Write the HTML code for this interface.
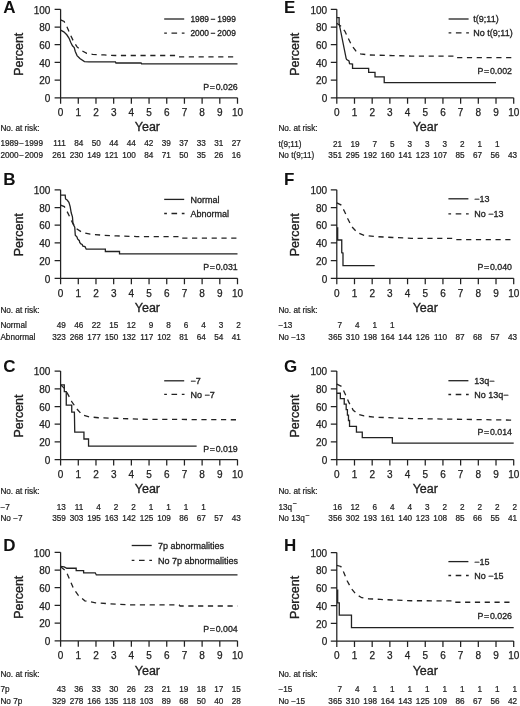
<!DOCTYPE html>
<html><head><meta charset="utf-8"><title>Figure</title>
<style>
html,body{margin:0;padding:0;background:#fff;}
svg{display:block;will-change:transform;}
text{font-family:"Liberation Sans", sans-serif;fill:#222;}
.L{font-size:17px;font-weight:bold;fill:#111;}
.t{font-size:10px;stroke:#222;stroke-width:0.25px;}
.yr{font-size:12.5px;stroke:#222;stroke-width:0.35px;}
.lg{font-size:9px;stroke:#222;stroke-width:0.3px;}
.pv{font-size:8.8px;stroke:#222;stroke-width:0.3px;}
.rk{font-size:8.2px;stroke:#222;stroke-width:0.22px;}
.ax{fill:none;stroke:#222;stroke-width:1.25;}
.cs{fill:none;stroke:#222;stroke-width:1.3;stroke-linejoin:miter;}
.cl{fill:none;stroke:#222;stroke-width:1.35;stroke-dasharray:2.7 4.6 5.6 4.7 2.7 9;}
.cd{fill:none;stroke:#222;stroke-width:1.3;stroke-dasharray:5.2 4.6;}
</style></head>
<body>
<svg width="520" height="706" viewBox="0 0 520 706">
<rect width="520" height="706" fill="#fff"/>
<text x="3.2" y="13.1" class="L">A</text>
<path d="M60.6 9.3V97.8M54.6 97.8H237.5M54.6 80.1H60.6M54.6 62.4H60.6M54.6 44.7H60.6M54.6 27H60.6M54.6 9.3H60.6M60.6 97.8v6M78.29 97.8v6M95.98 97.8v6M113.67 97.8v6M131.36 97.8v6M149.05 97.8v6M166.74 97.8v6M184.43 97.8v6M202.12 97.8v6M219.81 97.8v6M237.5 97.8v6" class="ax"/>
<text x="50.4" y="102" class="t" text-anchor="end">0</text>
<text x="50.4" y="84.3" class="t" text-anchor="end">20</text>
<text x="50.4" y="66.6" class="t" text-anchor="end">40</text>
<text x="50.4" y="48.9" class="t" text-anchor="end">60</text>
<text x="50.4" y="31.2" class="t" text-anchor="end">80</text>
<text x="50.4" y="13.5" class="t" text-anchor="end">100</text>
<text x="60.6" y="116.2" class="t" text-anchor="middle">0</text>
<text x="78.29" y="116.2" class="t" text-anchor="middle">1</text>
<text x="95.98" y="116.2" class="t" text-anchor="middle">2</text>
<text x="113.67" y="116.2" class="t" text-anchor="middle">3</text>
<text x="131.36" y="116.2" class="t" text-anchor="middle">4</text>
<text x="149.05" y="116.2" class="t" text-anchor="middle">5</text>
<text x="166.74" y="116.2" class="t" text-anchor="middle">6</text>
<text x="184.43" y="116.2" class="t" text-anchor="middle">7</text>
<text x="202.12" y="116.2" class="t" text-anchor="middle">8</text>
<text x="219.81" y="116.2" class="t" text-anchor="middle">9</text>
<text x="237.5" y="116.2" class="t" text-anchor="middle">10</text>
<text x="147.4" y="130.7" class="yr" text-anchor="middle">Year</text>
<text transform="translate(23.2 54.2) rotate(-90)" class="yr" text-anchor="middle">Percent</text>
<polyline points="60.6,30.19 63.78,31.87 66.79,34.79 69.09,38.33 70.68,42.31 72.45,45.76 74.22,47.53 75.28,51.51 77.05,55.59 79.88,58.51 84.48,61.6 88.9,61.87 115.44,61.87 115.97,63.02 141.09,63.02 141.62,63.9 237.5,63.9" class="cs"/>
<polyline points="60.6,19.83 64.14,21.51 67.15,27.27 70.15,34.17 73.16,40.63 77.05,46.91 81.12,50.36 86.78,53.28 92.62,54.43 104.12,54.97 115.44,55.5 175.59,55.5 176.47,56.82 237.5,56.82" class="cd"/>
<path d="M164.2 19h20" class="cs"/>
<path d="M164.2 33.1h20.3" class="cl"/>
<text x="190.4" y="22.2" class="lg" style="font-size:8.4px">1989 − 1999</text>
<text x="190.4" y="36.3" class="lg" style="font-size:8.4px">2000 − 2009</text>
<text x="237.7" y="90" class="pv" text-anchor="end">P = 0.026</text>
<text x="0.4" y="130.8" class="rk">No. at risk:</text>
<text x="0.4" y="146.2" class="rk">1989 − 1999</text>
<text x="0.4" y="157.9" class="rk">2000 − 2009</text>
<text x="65.8" y="146.2" class="rk" text-anchor="end">111</text>
<text x="83.3" y="146.2" class="rk" text-anchor="end">84</text>
<text x="100.8" y="146.2" class="rk" text-anchor="end">50</text>
<text x="118.3" y="146.2" class="rk" text-anchor="end">44</text>
<text x="135.8" y="146.2" class="rk" text-anchor="end">44</text>
<text x="153.3" y="146.2" class="rk" text-anchor="end">42</text>
<text x="170.8" y="146.2" class="rk" text-anchor="end">39</text>
<text x="188.3" y="146.2" class="rk" text-anchor="end">37</text>
<text x="205.8" y="146.2" class="rk" text-anchor="end">33</text>
<text x="223.3" y="146.2" class="rk" text-anchor="end">31</text>
<text x="240.8" y="146.2" class="rk" text-anchor="end">27</text>
<text x="65.8" y="157.9" class="rk" text-anchor="end">261</text>
<text x="83.3" y="157.9" class="rk" text-anchor="end">230</text>
<text x="100.8" y="157.9" class="rk" text-anchor="end">149</text>
<text x="118.3" y="157.9" class="rk" text-anchor="end">121</text>
<text x="135.8" y="157.9" class="rk" text-anchor="end">100</text>
<text x="153.3" y="157.9" class="rk" text-anchor="end">84</text>
<text x="170.8" y="157.9" class="rk" text-anchor="end">71</text>
<text x="188.3" y="157.9" class="rk" text-anchor="end">50</text>
<text x="205.8" y="157.9" class="rk" text-anchor="end">35</text>
<text x="223.3" y="157.9" class="rk" text-anchor="end">26</text>
<text x="240.8" y="157.9" class="rk" text-anchor="end">16</text>
<text x="3.2" y="185" class="L">B</text>
<path d="M60.6 189.8V278.3M54.6 278.3H237.5M54.6 260.6H60.6M54.6 242.9H60.6M54.6 225.2H60.6M54.6 207.5H60.6M54.6 189.8H60.6M60.6 278.3v6M78.29 278.3v6M95.98 278.3v6M113.67 278.3v6M131.36 278.3v6M149.05 278.3v6M166.74 278.3v6M184.43 278.3v6M202.12 278.3v6M219.81 278.3v6M237.5 278.3v6" class="ax"/>
<text x="50.4" y="282.5" class="t" text-anchor="end">0</text>
<text x="50.4" y="264.8" class="t" text-anchor="end">20</text>
<text x="50.4" y="247.1" class="t" text-anchor="end">40</text>
<text x="50.4" y="229.4" class="t" text-anchor="end">60</text>
<text x="50.4" y="211.7" class="t" text-anchor="end">80</text>
<text x="50.4" y="194" class="t" text-anchor="end">100</text>
<text x="60.6" y="296.7" class="t" text-anchor="middle">0</text>
<text x="78.29" y="296.7" class="t" text-anchor="middle">1</text>
<text x="95.98" y="296.7" class="t" text-anchor="middle">2</text>
<text x="113.67" y="296.7" class="t" text-anchor="middle">3</text>
<text x="131.36" y="296.7" class="t" text-anchor="middle">4</text>
<text x="149.05" y="296.7" class="t" text-anchor="middle">5</text>
<text x="166.74" y="296.7" class="t" text-anchor="middle">6</text>
<text x="184.43" y="296.7" class="t" text-anchor="middle">7</text>
<text x="202.12" y="296.7" class="t" text-anchor="middle">8</text>
<text x="219.81" y="296.7" class="t" text-anchor="middle">9</text>
<text x="237.5" y="296.7" class="t" text-anchor="middle">10</text>
<text x="147.4" y="312" class="yr" text-anchor="middle">Year</text>
<text transform="translate(23.2 234.7) rotate(-90)" class="yr" text-anchor="middle">Percent</text>
<polyline points="60.6,195.2 65.2,195.2 65.55,199 67.15,200.07 68.91,202.37 70.15,206.53 71.21,212.81 72.45,216.79 72.98,223.78 74.75,227.24 75.28,235.29 77.05,237.15 77.58,238.92 79.35,240.69 79.71,242.46 80.94,243.96 82.18,244.49 82.89,246.09 85.01,246.62 86.25,249.18 105.36,249.18 105.36,251.48 119.51,251.48 119.51,253.96 237.5,253.96" class="cs"/>
<polyline points="60.6,205.11 64.31,206.53 66.61,210.51 69.45,216.35 72.45,222.63 77.05,229.01 82.18,232.37 90.32,234.23 104.12,235.29 116.85,235.91 136.67,236.53 180.89,236.53 181.78,238.03 237.5,238.03" class="cd"/>
<path d="M164.2 199.4h20" class="cs"/>
<path d="M164.2 213.5h20.3" class="cl"/>
<text x="190.4" y="202.6" class="lg">Normal</text>
<text x="190.4" y="216.7" class="lg">Abnormal</text>
<text x="237.7" y="270.2" class="pv" text-anchor="end">P = 0.031</text>
<text x="0.4" y="312.9" class="rk">No. at risk:</text>
<text x="0.4" y="328" class="rk">Normal</text>
<text x="0.4" y="339.8" class="rk">Abnormal</text>
<text x="65.8" y="328" class="rk" text-anchor="end">49</text>
<text x="83.3" y="328" class="rk" text-anchor="end">46</text>
<text x="100.8" y="328" class="rk" text-anchor="end">22</text>
<text x="118.3" y="328" class="rk" text-anchor="end">15</text>
<text x="135.8" y="328" class="rk" text-anchor="end">12</text>
<text x="153.3" y="328" class="rk" text-anchor="end">9</text>
<text x="170.8" y="328" class="rk" text-anchor="end">8</text>
<text x="188.3" y="328" class="rk" text-anchor="end">6</text>
<text x="205.8" y="328" class="rk" text-anchor="end">4</text>
<text x="223.3" y="328" class="rk" text-anchor="end">3</text>
<text x="240.8" y="328" class="rk" text-anchor="end">2</text>
<text x="65.8" y="339.8" class="rk" text-anchor="end">323</text>
<text x="83.3" y="339.8" class="rk" text-anchor="end">268</text>
<text x="100.8" y="339.8" class="rk" text-anchor="end">177</text>
<text x="118.3" y="339.8" class="rk" text-anchor="end">150</text>
<text x="135.8" y="339.8" class="rk" text-anchor="end">132</text>
<text x="153.3" y="339.8" class="rk" text-anchor="end">117</text>
<text x="170.8" y="339.8" class="rk" text-anchor="end">102</text>
<text x="188.3" y="339.8" class="rk" text-anchor="end">81</text>
<text x="205.8" y="339.8" class="rk" text-anchor="end">64</text>
<text x="223.3" y="339.8" class="rk" text-anchor="end">54</text>
<text x="240.8" y="339.8" class="rk" text-anchor="end">41</text>
<text x="3.2" y="371.7" class="L">C</text>
<path d="M60.6 371.1V459.6M54.6 459.6H237.5M54.6 441.9H60.6M54.6 424.2H60.6M54.6 406.5H60.6M54.6 388.8H60.6M54.6 371.1H60.6M60.6 459.6v6M78.29 459.6v6M95.98 459.6v6M113.67 459.6v6M131.36 459.6v6M149.05 459.6v6M166.74 459.6v6M184.43 459.6v6M202.12 459.6v6M219.81 459.6v6M237.5 459.6v6" class="ax"/>
<text x="50.4" y="463.8" class="t" text-anchor="end">0</text>
<text x="50.4" y="446.1" class="t" text-anchor="end">20</text>
<text x="50.4" y="428.4" class="t" text-anchor="end">40</text>
<text x="50.4" y="410.7" class="t" text-anchor="end">60</text>
<text x="50.4" y="393" class="t" text-anchor="end">80</text>
<text x="50.4" y="375.3" class="t" text-anchor="end">100</text>
<text x="60.6" y="478" class="t" text-anchor="middle">0</text>
<text x="78.29" y="478" class="t" text-anchor="middle">1</text>
<text x="95.98" y="478" class="t" text-anchor="middle">2</text>
<text x="113.67" y="478" class="t" text-anchor="middle">3</text>
<text x="131.36" y="478" class="t" text-anchor="middle">4</text>
<text x="149.05" y="478" class="t" text-anchor="middle">5</text>
<text x="166.74" y="478" class="t" text-anchor="middle">6</text>
<text x="184.43" y="478" class="t" text-anchor="middle">7</text>
<text x="202.12" y="478" class="t" text-anchor="middle">8</text>
<text x="219.81" y="478" class="t" text-anchor="middle">9</text>
<text x="237.5" y="478" class="t" text-anchor="middle">10</text>
<text x="147.4" y="493.3" class="yr" text-anchor="middle">Year</text>
<text transform="translate(23.2 416) rotate(-90)" class="yr" text-anchor="middle">Percent</text>
<polyline points="60.6,384.82 64.31,384.82 64.31,391.72 66.26,391.72 66.26,405.17 71.74,405.17 71.74,412.16 74.4,412.16 74.75,432.08 83.95,432.08 83.95,438.98 88.55,438.98 88.55,446.15 196.64,446.15" class="cs"/>
<polyline points="60.6,384.82 64.85,388.8 68.38,395.17 71.74,401.54 76.52,408.54 82.18,414.82 89.08,416.77 98.46,417.74 116.85,418.27 140.21,419.24 237.5,419.78" class="cd"/>
<path d="M164.2 380.8h20" class="cs"/>
<path d="M164.2 394.4h20.3" class="cl"/>
<text x="190.4" y="384" class="lg">−7</text>
<text x="190.4" y="397.6" class="lg">No −7</text>
<text x="237.7" y="451.5" class="pv" text-anchor="end">P = 0.019</text>
<text x="0.4" y="494.1" class="rk">No. at risk:</text>
<text x="0.4" y="509.6" class="rk">−7</text>
<text x="0.4" y="521.1" class="rk">No −7</text>
<text x="65.8" y="509.6" class="rk" text-anchor="end">13</text>
<text x="83.3" y="509.6" class="rk" text-anchor="end">11</text>
<text x="100.8" y="509.6" class="rk" text-anchor="end">4</text>
<text x="118.3" y="509.6" class="rk" text-anchor="end">2</text>
<text x="135.8" y="509.6" class="rk" text-anchor="end">2</text>
<text x="153.3" y="509.6" class="rk" text-anchor="end">1</text>
<text x="170.8" y="509.6" class="rk" text-anchor="end">1</text>
<text x="188.3" y="509.6" class="rk" text-anchor="end">1</text>
<text x="205.8" y="509.6" class="rk" text-anchor="end">1</text>
<text x="65.8" y="521.1" class="rk" text-anchor="end">359</text>
<text x="83.3" y="521.1" class="rk" text-anchor="end">303</text>
<text x="100.8" y="521.1" class="rk" text-anchor="end">195</text>
<text x="118.3" y="521.1" class="rk" text-anchor="end">163</text>
<text x="135.8" y="521.1" class="rk" text-anchor="end">142</text>
<text x="153.3" y="521.1" class="rk" text-anchor="end">125</text>
<text x="170.8" y="521.1" class="rk" text-anchor="end">109</text>
<text x="188.3" y="521.1" class="rk" text-anchor="end">86</text>
<text x="205.8" y="521.1" class="rk" text-anchor="end">67</text>
<text x="223.3" y="521.1" class="rk" text-anchor="end">57</text>
<text x="240.8" y="521.1" class="rk" text-anchor="end">43</text>
<text x="3.2" y="550.9" class="L">D</text>
<path d="M60.6 552.3V640.8M54.6 640.8H237.5M54.6 623.1H60.6M54.6 605.4H60.6M54.6 587.7H60.6M54.6 570H60.6M54.6 552.3H60.6M60.6 640.8v6M78.29 640.8v6M95.98 640.8v6M113.67 640.8v6M131.36 640.8v6M149.05 640.8v6M166.74 640.8v6M184.43 640.8v6M202.12 640.8v6M219.81 640.8v6M237.5 640.8v6" class="ax"/>
<text x="50.4" y="645" class="t" text-anchor="end">0</text>
<text x="50.4" y="627.3" class="t" text-anchor="end">20</text>
<text x="50.4" y="609.6" class="t" text-anchor="end">40</text>
<text x="50.4" y="591.9" class="t" text-anchor="end">60</text>
<text x="50.4" y="574.2" class="t" text-anchor="end">80</text>
<text x="50.4" y="556.5" class="t" text-anchor="end">100</text>
<text x="60.6" y="659.2" class="t" text-anchor="middle">0</text>
<text x="78.29" y="659.2" class="t" text-anchor="middle">1</text>
<text x="95.98" y="659.2" class="t" text-anchor="middle">2</text>
<text x="113.67" y="659.2" class="t" text-anchor="middle">3</text>
<text x="131.36" y="659.2" class="t" text-anchor="middle">4</text>
<text x="149.05" y="659.2" class="t" text-anchor="middle">5</text>
<text x="166.74" y="659.2" class="t" text-anchor="middle">6</text>
<text x="184.43" y="659.2" class="t" text-anchor="middle">7</text>
<text x="202.12" y="659.2" class="t" text-anchor="middle">8</text>
<text x="219.81" y="659.2" class="t" text-anchor="middle">9</text>
<text x="237.5" y="659.2" class="t" text-anchor="middle">10</text>
<text x="147.4" y="675.1" class="yr" text-anchor="middle">Year</text>
<text transform="translate(23.2 597.2) rotate(-90)" class="yr" text-anchor="middle">Percent</text>
<polyline points="60.6,566.37 64.14,566.81 66.79,568.23 76.17,568.23 76.17,570.53 83.6,570.53 83.6,572.83 95.27,572.83 96.33,574.96 237.5,574.96" class="cs"/>
<polyline points="60.6,566.81 66.08,571.24 70.15,580.62 73.51,588.58 78.29,595.4 84.84,600.8 95.63,602.83 109.07,603.72 126.58,604.78 179.12,604.87 180.01,606.02 237.5,606.02" class="cd"/>
<path d="M131.7 545.5h20" class="cs"/>
<path d="M131.7 560.4h20.3" class="cl"/>
<text x="158" y="548.7" class="lg">7p abnormalities</text>
<text x="158" y="563.6" class="lg">No 7p abnormalities</text>
<text x="237.7" y="632.2" class="pv" text-anchor="end">P = 0.004</text>
<text x="0.4" y="676.7" class="rk">No. at risk:</text>
<text x="0.4" y="691.9" class="rk">7p</text>
<text x="0.4" y="703.8" class="rk">No 7p</text>
<text x="65.8" y="691.9" class="rk" text-anchor="end">43</text>
<text x="83.3" y="691.9" class="rk" text-anchor="end">36</text>
<text x="100.8" y="691.9" class="rk" text-anchor="end">33</text>
<text x="118.3" y="691.9" class="rk" text-anchor="end">30</text>
<text x="135.8" y="691.9" class="rk" text-anchor="end">26</text>
<text x="153.3" y="691.9" class="rk" text-anchor="end">23</text>
<text x="170.8" y="691.9" class="rk" text-anchor="end">21</text>
<text x="188.3" y="691.9" class="rk" text-anchor="end">19</text>
<text x="205.8" y="691.9" class="rk" text-anchor="end">18</text>
<text x="223.3" y="691.9" class="rk" text-anchor="end">17</text>
<text x="240.8" y="691.9" class="rk" text-anchor="end">15</text>
<text x="65.8" y="703.8" class="rk" text-anchor="end">329</text>
<text x="83.3" y="703.8" class="rk" text-anchor="end">278</text>
<text x="100.8" y="703.8" class="rk" text-anchor="end">166</text>
<text x="118.3" y="703.8" class="rk" text-anchor="end">135</text>
<text x="135.8" y="703.8" class="rk" text-anchor="end">118</text>
<text x="153.3" y="703.8" class="rk" text-anchor="end">103</text>
<text x="170.8" y="703.8" class="rk" text-anchor="end">89</text>
<text x="188.3" y="703.8" class="rk" text-anchor="end">68</text>
<text x="205.8" y="703.8" class="rk" text-anchor="end">50</text>
<text x="223.3" y="703.8" class="rk" text-anchor="end">40</text>
<text x="240.8" y="703.8" class="rk" text-anchor="end">28</text>
<text x="284" y="12.9" class="L">E</text>
<path d="M336.8 9.3V97.8M330.8 97.8H513.7M330.8 80.1H336.8M330.8 62.4H336.8M330.8 44.7H336.8M330.8 27H336.8M330.8 9.3H336.8M336.8 97.8v6M354.49 97.8v6M372.18 97.8v6M389.87 97.8v6M407.56 97.8v6M425.25 97.8v6M442.94 97.8v6M460.63 97.8v6M478.32 97.8v6M496.01 97.8v6M513.7 97.8v6" class="ax"/>
<text x="327.2" y="102" class="t" text-anchor="end">0</text>
<text x="327.2" y="84.3" class="t" text-anchor="end">20</text>
<text x="327.2" y="66.6" class="t" text-anchor="end">40</text>
<text x="327.2" y="48.9" class="t" text-anchor="end">60</text>
<text x="327.2" y="31.2" class="t" text-anchor="end">80</text>
<text x="327.2" y="13.5" class="t" text-anchor="end">100</text>
<text x="336.8" y="116.2" class="t" text-anchor="middle">0</text>
<text x="354.49" y="116.2" class="t" text-anchor="middle">1</text>
<text x="372.18" y="116.2" class="t" text-anchor="middle">2</text>
<text x="389.87" y="116.2" class="t" text-anchor="middle">3</text>
<text x="407.56" y="116.2" class="t" text-anchor="middle">4</text>
<text x="425.25" y="116.2" class="t" text-anchor="middle">5</text>
<text x="442.94" y="116.2" class="t" text-anchor="middle">6</text>
<text x="460.63" y="116.2" class="t" text-anchor="middle">7</text>
<text x="478.32" y="116.2" class="t" text-anchor="middle">8</text>
<text x="496.01" y="116.2" class="t" text-anchor="middle">9</text>
<text x="513.7" y="116.2" class="t" text-anchor="middle">10</text>
<text x="425.3" y="130.7" class="yr" text-anchor="middle">Year</text>
<text transform="translate(299.4 54.2) rotate(-90)" class="yr" text-anchor="middle">Percent</text>
<polyline points="336.8,17.53 339.1,17.53 339.1,23.28 346.18,58.51 346.71,59.57 349.01,60.81 349.54,63.73 352.54,64.17 352.54,68.33 368.64,68.33 368.64,72.31 375.01,72.31 375.01,76.91 384.21,76.91 384.21,82.67 496.01,82.67" class="cs"/>
<polyline points="336.8,23.28 340.87,26.2 344.94,31.34 348.48,38.77 351.84,45.76 355.91,50.98 360.5,53.82 368.64,54.97 392.88,55.59 411.1,56.03 453.55,56.03 454.44,57.62 513.7,57.62" class="cd"/>
<path d="M448.6 19h20" class="cs"/>
<path d="M448.6 32.9h20.3" class="cl"/>
<text x="473.3" y="22.2" class="lg">t(9;11)</text>
<text x="473.3" y="36.1" class="lg">No t(9;11)</text>
<text x="512" y="74.3" class="pv" text-anchor="end">P = 0.002</text>
<text x="278.4" y="130.9" class="rk">No. at risk:</text>
<text x="278.4" y="146.5" class="rk">t(9;11)</text>
<text x="278.4" y="157.8" class="rk">No t(9;11)</text>
<text x="342" y="146.5" class="rk" text-anchor="end">21</text>
<text x="359.5" y="146.5" class="rk" text-anchor="end">19</text>
<text x="377" y="146.5" class="rk" text-anchor="end">7</text>
<text x="394.5" y="146.5" class="rk" text-anchor="end">5</text>
<text x="412" y="146.5" class="rk" text-anchor="end">3</text>
<text x="429.5" y="146.5" class="rk" text-anchor="end">3</text>
<text x="447" y="146.5" class="rk" text-anchor="end">3</text>
<text x="464.5" y="146.5" class="rk" text-anchor="end">2</text>
<text x="482" y="146.5" class="rk" text-anchor="end">1</text>
<text x="499.5" y="146.5" class="rk" text-anchor="end">1</text>
<text x="342" y="157.8" class="rk" text-anchor="end">351</text>
<text x="359.5" y="157.8" class="rk" text-anchor="end">295</text>
<text x="377" y="157.8" class="rk" text-anchor="end">192</text>
<text x="394.5" y="157.8" class="rk" text-anchor="end">160</text>
<text x="412" y="157.8" class="rk" text-anchor="end">141</text>
<text x="429.5" y="157.8" class="rk" text-anchor="end">123</text>
<text x="447" y="157.8" class="rk" text-anchor="end">107</text>
<text x="464.5" y="157.8" class="rk" text-anchor="end">85</text>
<text x="482" y="157.8" class="rk" text-anchor="end">67</text>
<text x="499.5" y="157.8" class="rk" text-anchor="end">56</text>
<text x="517" y="157.8" class="rk" text-anchor="end">43</text>
<text x="284" y="185" class="L">F</text>
<path d="M336.8 189.8V278.3M330.8 278.3H513.7M330.8 260.6H336.8M330.8 242.9H336.8M330.8 225.2H336.8M330.8 207.5H336.8M330.8 189.8H336.8M336.8 278.3v6M354.49 278.3v6M372.18 278.3v6M389.87 278.3v6M407.56 278.3v6M425.25 278.3v6M442.94 278.3v6M460.63 278.3v6M478.32 278.3v6M496.01 278.3v6M513.7 278.3v6" class="ax"/>
<text x="327.2" y="282.5" class="t" text-anchor="end">0</text>
<text x="327.2" y="264.8" class="t" text-anchor="end">20</text>
<text x="327.2" y="247.1" class="t" text-anchor="end">40</text>
<text x="327.2" y="229.4" class="t" text-anchor="end">60</text>
<text x="327.2" y="211.7" class="t" text-anchor="end">80</text>
<text x="327.2" y="194" class="t" text-anchor="end">100</text>
<text x="336.8" y="296.7" class="t" text-anchor="middle">0</text>
<text x="354.49" y="296.7" class="t" text-anchor="middle">1</text>
<text x="372.18" y="296.7" class="t" text-anchor="middle">2</text>
<text x="389.87" y="296.7" class="t" text-anchor="middle">3</text>
<text x="407.56" y="296.7" class="t" text-anchor="middle">4</text>
<text x="425.25" y="296.7" class="t" text-anchor="middle">5</text>
<text x="442.94" y="296.7" class="t" text-anchor="middle">6</text>
<text x="460.63" y="296.7" class="t" text-anchor="middle">7</text>
<text x="478.32" y="296.7" class="t" text-anchor="middle">8</text>
<text x="496.01" y="296.7" class="t" text-anchor="middle">9</text>
<text x="513.7" y="296.7" class="t" text-anchor="middle">10</text>
<text x="425.3" y="312" class="yr" text-anchor="middle">Year</text>
<text transform="translate(299.4 234.7) rotate(-90)" class="yr" text-anchor="middle">Percent</text>
<polyline points="337.68,227.32 337.68,239.98 341.75,239.98 341.75,252.72 342.99,252.99 342.99,265.64 374.66,265.64" class="cs"/>
<polyline points="336.8,202.81 340.87,204.85 344.41,211.22 347.77,218.74 351.84,226.7 357.14,232.46 364.04,235.38 374.48,236.53 392.88,237.5 411.1,238.3 453.55,238.48 454.44,239.54 513.7,239.54" class="cd"/>
<path d="M448.4 198.8h20" class="cs"/>
<path d="M448.4 213.8h20.3" class="cl"/>
<text x="474.3" y="202" class="lg">−13</text>
<text x="474.3" y="217" class="lg">No −13</text>
<text x="512" y="270.2" class="pv" text-anchor="end">P = 0.040</text>
<text x="278.4" y="313" class="rk">No. at risk:</text>
<text x="278.4" y="328.2" class="rk">−13</text>
<text x="278.4" y="339.8" class="rk">No −13</text>
<text x="342" y="328.2" class="rk" text-anchor="end">7</text>
<text x="359.5" y="328.2" class="rk" text-anchor="end">4</text>
<text x="377" y="328.2" class="rk" text-anchor="end">1</text>
<text x="394.5" y="328.2" class="rk" text-anchor="end">1</text>
<text x="342" y="339.8" class="rk" text-anchor="end">365</text>
<text x="359.5" y="339.8" class="rk" text-anchor="end">310</text>
<text x="377" y="339.8" class="rk" text-anchor="end">198</text>
<text x="394.5" y="339.8" class="rk" text-anchor="end">164</text>
<text x="412" y="339.8" class="rk" text-anchor="end">144</text>
<text x="429.5" y="339.8" class="rk" text-anchor="end">126</text>
<text x="447" y="339.8" class="rk" text-anchor="end">110</text>
<text x="464.5" y="339.8" class="rk" text-anchor="end">87</text>
<text x="482" y="339.8" class="rk" text-anchor="end">68</text>
<text x="499.5" y="339.8" class="rk" text-anchor="end">57</text>
<text x="517" y="339.8" class="rk" text-anchor="end">43</text>
<text x="284" y="371.7" class="L">G</text>
<path d="M336.8 371.1V459.6M330.8 459.6H513.7M330.8 441.9H336.8M330.8 424.2H336.8M330.8 406.5H336.8M330.8 388.8H336.8M330.8 371.1H336.8M336.8 459.6v6M354.49 459.6v6M372.18 459.6v6M389.87 459.6v6M407.56 459.6v6M425.25 459.6v6M442.94 459.6v6M460.63 459.6v6M478.32 459.6v6M496.01 459.6v6M513.7 459.6v6" class="ax"/>
<text x="327.2" y="463.8" class="t" text-anchor="end">0</text>
<text x="327.2" y="446.1" class="t" text-anchor="end">20</text>
<text x="327.2" y="428.4" class="t" text-anchor="end">40</text>
<text x="327.2" y="410.7" class="t" text-anchor="end">60</text>
<text x="327.2" y="393" class="t" text-anchor="end">80</text>
<text x="327.2" y="375.3" class="t" text-anchor="end">100</text>
<text x="336.8" y="478" class="t" text-anchor="middle">0</text>
<text x="354.49" y="478" class="t" text-anchor="middle">1</text>
<text x="372.18" y="478" class="t" text-anchor="middle">2</text>
<text x="389.87" y="478" class="t" text-anchor="middle">3</text>
<text x="407.56" y="478" class="t" text-anchor="middle">4</text>
<text x="425.25" y="478" class="t" text-anchor="middle">5</text>
<text x="442.94" y="478" class="t" text-anchor="middle">6</text>
<text x="460.63" y="478" class="t" text-anchor="middle">7</text>
<text x="478.32" y="478" class="t" text-anchor="middle">8</text>
<text x="496.01" y="478" class="t" text-anchor="middle">9</text>
<text x="513.7" y="478" class="t" text-anchor="middle">10</text>
<text x="425.3" y="493.3" class="yr" text-anchor="middle">Year</text>
<text transform="translate(299.4 416) rotate(-90)" class="yr" text-anchor="middle">Percent</text>
<polyline points="336.8,393.23 340.34,393.23 340.34,398.71 344.23,398.71 344.23,404.2 346.18,404.2 346.18,409.6 347.41,409.6 347.41,415.08 348.48,415.08 348.48,420.48 349.54,420.48 349.54,426.32 356.44,426.32 356.44,432.08 362.27,432.08 362.27,437.56 392.35,437.56 392.35,443.14 513.7,443.14" class="cs"/>
<polyline points="336.8,384.2 341.58,386.5 344.94,393.49 349.01,402.69 353.25,410.22 358.2,414.2 364.04,415.97 374.48,417.12 392.88,417.92 411.1,418.54 513.7,420.13" class="cd"/>
<path d="M448.4 380.7h20" class="cs"/>
<path d="M448.4 394.5h20.3" class="cl"/>
<text x="474.3" y="383.9" class="lg">13q−</text>
<text x="474.3" y="397.7" class="lg">No 13q−</text>
<text x="512" y="435.3" class="pv" text-anchor="end">P = 0.014</text>
<text x="278.4" y="494.1" class="rk">No. at risk:</text>
<text x="278.4" y="509.6" class="rk">13q<tspan dx="0.4" dy="-3.4" font-size="7">−</tspan></text>
<text x="278.4" y="521.1" class="rk">No 13q<tspan dx="0.4" dy="-3.4" font-size="7">−</tspan></text>
<text x="342" y="509.6" class="rk" text-anchor="end">16</text>
<text x="359.5" y="509.6" class="rk" text-anchor="end">12</text>
<text x="377" y="509.6" class="rk" text-anchor="end">6</text>
<text x="394.5" y="509.6" class="rk" text-anchor="end">4</text>
<text x="412" y="509.6" class="rk" text-anchor="end">4</text>
<text x="429.5" y="509.6" class="rk" text-anchor="end">3</text>
<text x="447" y="509.6" class="rk" text-anchor="end">2</text>
<text x="464.5" y="509.6" class="rk" text-anchor="end">2</text>
<text x="482" y="509.6" class="rk" text-anchor="end">2</text>
<text x="499.5" y="509.6" class="rk" text-anchor="end">2</text>
<text x="517" y="509.6" class="rk" text-anchor="end">2</text>
<text x="342" y="521.1" class="rk" text-anchor="end">356</text>
<text x="359.5" y="521.1" class="rk" text-anchor="end">302</text>
<text x="377" y="521.1" class="rk" text-anchor="end">193</text>
<text x="394.5" y="521.1" class="rk" text-anchor="end">161</text>
<text x="412" y="521.1" class="rk" text-anchor="end">140</text>
<text x="429.5" y="521.1" class="rk" text-anchor="end">123</text>
<text x="447" y="521.1" class="rk" text-anchor="end">108</text>
<text x="464.5" y="521.1" class="rk" text-anchor="end">85</text>
<text x="482" y="521.1" class="rk" text-anchor="end">66</text>
<text x="499.5" y="521.1" class="rk" text-anchor="end">55</text>
<text x="517" y="521.1" class="rk" text-anchor="end">41</text>
<text x="284" y="550.9" class="L">H</text>
<path d="M336.8 552.5V641M330.8 641H513.7M330.8 623.3H336.8M330.8 605.6H336.8M330.8 587.9H336.8M330.8 570.2H336.8M330.8 552.5H336.8M336.8 641v6M354.49 641v6M372.18 641v6M389.87 641v6M407.56 641v6M425.25 641v6M442.94 641v6M460.63 641v6M478.32 641v6M496.01 641v6M513.7 641v6" class="ax"/>
<text x="327.2" y="645.2" class="t" text-anchor="end">0</text>
<text x="327.2" y="627.5" class="t" text-anchor="end">20</text>
<text x="327.2" y="609.8" class="t" text-anchor="end">40</text>
<text x="327.2" y="592.1" class="t" text-anchor="end">60</text>
<text x="327.2" y="574.4" class="t" text-anchor="end">80</text>
<text x="327.2" y="556.7" class="t" text-anchor="end">100</text>
<text x="336.8" y="659.4" class="t" text-anchor="middle">0</text>
<text x="354.49" y="659.4" class="t" text-anchor="middle">1</text>
<text x="372.18" y="659.4" class="t" text-anchor="middle">2</text>
<text x="389.87" y="659.4" class="t" text-anchor="middle">3</text>
<text x="407.56" y="659.4" class="t" text-anchor="middle">4</text>
<text x="425.25" y="659.4" class="t" text-anchor="middle">5</text>
<text x="442.94" y="659.4" class="t" text-anchor="middle">6</text>
<text x="460.63" y="659.4" class="t" text-anchor="middle">7</text>
<text x="478.32" y="659.4" class="t" text-anchor="middle">8</text>
<text x="496.01" y="659.4" class="t" text-anchor="middle">9</text>
<text x="513.7" y="659.4" class="t" text-anchor="middle">10</text>
<text x="425.3" y="674.5" class="yr" text-anchor="middle">Year</text>
<text transform="translate(299.4 597.4) rotate(-90)" class="yr" text-anchor="middle">Percent</text>
<polyline points="337.68,589.58 337.68,602.95 339.28,602.95 339.28,615.16 351.48,615.16 351.48,627.64 513.7,627.64" class="cs"/>
<polyline points="336.8,565.42 340.87,566.48 343.7,572.32 347.24,581 351.31,588.52 355.91,594.18 361.74,597.72 368.64,598.79 380.32,599.4 392.88,600.02 411.1,600.73 451.79,600.82 452.67,602.24 513.7,602.24" class="cd"/>
<path d="M448.4 561.6h20" class="cs"/>
<path d="M448.4 575.5h20.3" class="cl"/>
<text x="474.3" y="564.8" class="lg">−15</text>
<text x="474.3" y="578.7" class="lg">No −15</text>
<text x="512" y="619" class="pv" text-anchor="end">P = 0.026</text>
<text x="278.4" y="676.7" class="rk">No. at risk:</text>
<text x="278.4" y="692.1" class="rk">−15</text>
<text x="278.4" y="703.8" class="rk">No −15</text>
<text x="342" y="692.1" class="rk" text-anchor="end">7</text>
<text x="359.5" y="692.1" class="rk" text-anchor="end">4</text>
<text x="377" y="692.1" class="rk" text-anchor="end">1</text>
<text x="394.5" y="692.1" class="rk" text-anchor="end">1</text>
<text x="412" y="692.1" class="rk" text-anchor="end">1</text>
<text x="429.5" y="692.1" class="rk" text-anchor="end">1</text>
<text x="447" y="692.1" class="rk" text-anchor="end">1</text>
<text x="464.5" y="692.1" class="rk" text-anchor="end">1</text>
<text x="482" y="692.1" class="rk" text-anchor="end">1</text>
<text x="499.5" y="692.1" class="rk" text-anchor="end">1</text>
<text x="517" y="692.1" class="rk" text-anchor="end">1</text>
<text x="342" y="703.8" class="rk" text-anchor="end">365</text>
<text x="359.5" y="703.8" class="rk" text-anchor="end">310</text>
<text x="377" y="703.8" class="rk" text-anchor="end">198</text>
<text x="394.5" y="703.8" class="rk" text-anchor="end">164</text>
<text x="412" y="703.8" class="rk" text-anchor="end">143</text>
<text x="429.5" y="703.8" class="rk" text-anchor="end">125</text>
<text x="447" y="703.8" class="rk" text-anchor="end">109</text>
<text x="464.5" y="703.8" class="rk" text-anchor="end">86</text>
<text x="482" y="703.8" class="rk" text-anchor="end">67</text>
<text x="499.5" y="703.8" class="rk" text-anchor="end">56</text>
<text x="517" y="703.8" class="rk" text-anchor="end">42</text>
</svg>
</body></html>
